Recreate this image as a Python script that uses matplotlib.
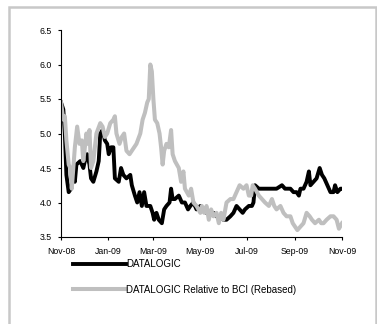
import numpy as np
import pandas as pd
import matplotlib
matplotlib.use("Agg")
import matplotlib.pyplot as plt
import matplotlib.dates as mdates
from matplotlib.patches import Rectangle

plt.rcParams['font.family'] = ['Liberation Sans', 'DejaVu Sans']

START = pd.Timestamp('2008-11-01')

# DATALOGIC share price (days since 1 Nov 2008, value)
dl_days = [0, 3, 5, 7, 10, 13, 16, 18, 20, 25, 29, 31, 34, 37, 39, 42, 46, 49,
           51, 54, 57, 60, 62, 65, 68, 70, 75, 78, 81, 85, 90, 92, 96, 99, 102,
           105, 108, 111, 116, 119, 121, 124, 127, 131, 134, 137, 141, 143, 145,
           148, 153, 157, 161, 165, 168, 172, 176, 181, 185, 189, 194, 198, 202,
           207, 211, 215, 220, 224, 228, 232, 236, 239, 244, 248, 250, 252, 257,
           263, 272, 280, 287, 291, 298, 302, 306, 309, 311, 315, 319, 322, 324,
           328, 332, 336, 339, 342, 348, 350, 354, 356, 359, 363, 365]
dl_vals = [5.45, 5.35, 5.0, 4.4, 4.15, 4.2, 4.45, 4.3, 4.55, 4.6, 4.5, 4.6, 4.7,
           4.55, 4.35, 4.3, 4.45, 4.6, 5.0, 5.05, 4.9, 4.85, 4.7, 4.8, 4.8, 4.35,
           4.3, 4.5, 4.4, 4.35, 4.4, 4.25, 4.1, 4.0, 4.15, 3.95, 4.15, 3.95, 3.95,
           3.85, 3.75, 3.85, 3.75, 3.7, 3.9, 3.95, 4.0, 4.2, 4.05, 4.05, 4.1, 4.0,
           4.0, 3.9, 3.95, 4.0, 3.9, 3.95, 3.9, 3.85, 3.85, 3.85, 3.8, 3.8, 3.75,
           3.75, 3.8, 3.85, 3.95, 3.9, 3.85, 3.9, 3.95, 3.95, 4.0, 4.25, 4.2, 4.2,
           4.2, 4.2, 4.25, 4.2, 4.2, 4.15, 4.15, 4.1, 4.2, 4.2, 4.3, 4.45, 4.25,
           4.3, 4.35, 4.5, 4.4, 4.35, 4.2, 4.15, 4.15, 4.25, 4.15, 4.2, 4.2]

# DATALOGIC relative to BCI (rebased)
rel_days = [0, 3, 5, 7, 10, 12, 14, 16, 18, 21, 24, 27, 29, 33, 35, 37, 39, 42,
            46, 51, 54, 57, 60, 64, 68, 70, 72, 76, 79, 82, 85, 89, 92, 95, 98,
            103, 106, 109, 112, 114, 116, 118, 120, 122, 125, 128, 130, 132, 134,
            137, 140, 143, 145, 148, 153, 156, 159, 161, 166, 169, 172, 176, 181,
            183, 186, 189, 192, 195, 198, 202, 205, 208, 211, 215, 220, 224, 228,
            232, 237, 241, 244, 247, 249, 252, 257, 261, 265, 270, 274, 277, 280,
            285, 289, 293, 298, 301, 304, 307, 311, 315, 319, 323, 326, 330, 335,
            338, 341, 345, 350, 354, 358, 361, 365]
rel_vals = [5.45, 5.2, 5.25, 4.9, 4.55, 4.5, 4.2, 4.5, 4.8, 5.1, 4.85, 4.9, 4.6,
            5.0, 4.85, 5.05, 4.5, 4.6, 5.0, 5.15, 5.1, 4.95, 5.0, 5.15, 5.2, 5.25,
            5.0, 4.85, 4.95, 5.0, 4.75, 4.7, 4.75, 4.8, 4.85, 5.0, 5.2, 5.3, 5.45,
            5.5, 6.0, 5.9, 5.5, 5.2, 5.15, 5.0, 4.8, 4.55, 4.75, 4.85, 4.8, 5.05,
            4.7, 4.6, 4.5, 4.3, 4.45, 4.2, 4.1, 4.2, 4.0, 3.95, 3.85, 3.95, 3.85,
            3.95, 3.75, 3.9, 3.8, 3.85, 3.7, 3.85, 3.75, 4.0, 4.05, 4.05, 4.15,
            4.25, 4.2, 4.25, 4.1, 4.1, 4.25, 4.2, 4.1, 4.05, 4.0, 3.95, 4.05, 3.95,
            3.9, 3.95, 3.85, 3.8, 3.8, 3.7, 3.65, 3.6, 3.65, 3.7, 3.85, 3.8, 3.75,
            3.7, 3.75, 3.7, 3.7, 3.75, 3.8, 3.8, 3.75, 3.62, 3.7]

tick_months = ['2008-11-01', '2009-01-01', '2009-03-01', '2009-05-01',
               '2009-07-01', '2009-09-01', '2009-11-01']
y_ticks = [3.5, 4.0, 4.5, 5.0, 5.5, 6.0, 6.5]

dl_dates = START + pd.to_timedelta(dl_days, unit='D')
rel_dates = START + pd.to_timedelta(rel_days, unit='D')

fig = plt.figure(figsize=(3.77, 3.24), dpi=100)
fig.patches.append(Rectangle((9 / 377, -0.1), 367 / 377, 1 - 7 / 324 + 0.1,
                             transform=fig.transFigure, fill=False,
                             edgecolor='#c8c8c8', linewidth=1.8))

ax = fig.add_axes([61 / 377, 1 - 237 / 324, 281 / 377, 207 / 324])
ax.plot(dl_dates, dl_vals, color='black', linewidth=2.8, label='DATALOGIC')
ax.plot(rel_dates, rel_vals, color='#bfbfbf', linewidth=2.9,
        label='DATALOGIC Relative to BCI (Rebased)')

ax.set_xlim(pd.Timestamp(tick_months[0]), pd.Timestamp(tick_months[-1]))
ax.set_ylim(3.5, 6.5)
ax.set_xticks(pd.to_datetime(tick_months))
ax.xaxis.set_major_formatter(mdates.DateFormatter('%b-%y'))
ax.set_yticks(y_ticks)
ax.set_yticklabels([f'{v:.1f}' for v in y_ticks])

for s in ['top', 'right']:
    ax.spines[s].set_visible(False)
for s in ['left', 'bottom']:
    ax.spines[s].set_linewidth(0.8)
ax.tick_params(axis='both', direction='out', length=2.5, width=0.8,
               labelsize=6.3)
ax.tick_params(axis='x', pad=5)
ax.tick_params(axis='y', pad=4)

fig.legend(loc='upper left', bbox_to_anchor=(73 / 377, 1 - 259 / 324),
           frameon=False, fontsize=7, handlelength=5.4, handletextpad=0.1,
           labelspacing=1.6, borderpad=0, borderaxespad=0)

fig.savefig('out.png', dpi=100)
